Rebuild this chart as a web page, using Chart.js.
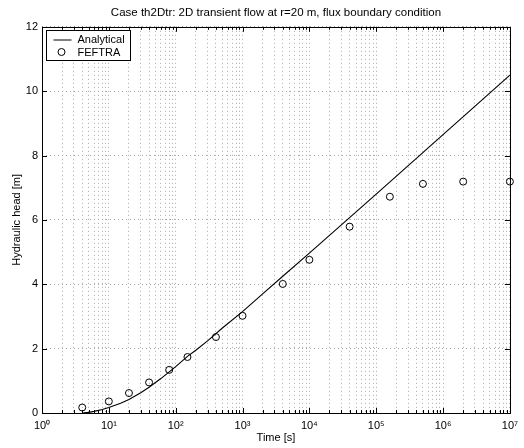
<!DOCTYPE html>
<html>
<head>
<meta charset="utf-8">
<script src="https://cdn.jsdelivr.net/npm/chart.js@4/dist/chart.umd.min.js"></script>
<style>
  html, body { margin: 0; padding: 0; background: #fff; }
  canvas { display: block; }
</style>
</head>
<body>
<canvas id="headChart" width="524" height="448"></canvas>
<script>
// analytical curve (time in s, head in m)
const analyticalTime = [4, 5, 6, 8, 10, 15, 20, 30, 40, 60, 80, 100, 150, 200, 300, 500, 1000, 2000, 4000, 1e4, 1e5, 1e6, 1e7];
const analyticalHead = [0.00, 0.02, 0.05, 0.11, 0.17, 0.30, 0.42, 0.63, 0.80, 1.07, 1.28, 1.44, 1.76, 1.95, 2.24, 2.64, 3.15, 3.70, 4.25, 4.97, 6.80, 8.65, 10.50];

// FEFTRA results
const feftraTime = [4, 10, 20, 40, 80, 150, 400, 1000, 4000, 1e4, 4e4, 1.6e5, 5e5, 2e6, 1e7];
const feftraHead = [0.17, 0.36, 0.62, 0.95, 1.34, 1.74, 2.36, 3.02, 4.01, 4.76, 5.79, 6.72, 7.12, 7.19, 7.19];

// axis ticks
const xTickValues = [1, 10, 100, 1e3, 1e4, 1e5, 1e6, 1e7];
const xTickLabels = ['10⁰', '10¹', '10²', '10³', '10⁴', '10⁵', '10⁶', '10⁷'];
const yTickValues = [0, 2, 4, 6, 8, 10, 12];

const FONT = "'Liberation Sans', Arial, Helvetica, sans-serif";
Chart.defaults.font.family = FONT;
Chart.defaults.font.size = 11;
Chart.defaults.color = '#000';

// major decades plus 2..9 in between
const xAllTicks = [];
xTickValues.forEach((v, i) => {
  xAllTicks.push({ value: v, major: true });
  if (i < xTickValues.length - 1) {
    for (let k = 2; k <= 9; k++) xAllTicks.push({ value: k * v, major: false });
  }
});

// box, inward tick marks and legend inside the axes
const frame = {
  id: 'frame',
  afterDatasetsDraw(chart) {
    const { ctx, chartArea: a, scales } = chart;
    ctx.save();
    ctx.strokeStyle = '#000';
    ctx.lineWidth = 1;
    ctx.beginPath();
    scales.x.ticks.forEach(t => {
      const px = Math.round(scales.x.getPixelForValue(t.value)) + 0.5;
      const len = t.major ? 5 : 3;
      ctx.moveTo(px, a.bottom); ctx.lineTo(px, a.bottom - len);
      ctx.moveTo(px, a.top); ctx.lineTo(px, a.top + len);
    });
    scales.y.ticks.forEach(t => {
      const py = Math.round(scales.y.getPixelForValue(t.value)) + 0.5;
      ctx.moveTo(a.left, py); ctx.lineTo(a.left + 5, py);
      ctx.moveTo(a.right, py); ctx.lineTo(a.right - 5, py);
    });
    ctx.stroke();
    ctx.strokeRect(Math.round(a.left) + 0.5, Math.round(a.top) + 0.5,
      Math.round(a.right - a.left), Math.round(a.bottom - a.top));

    // legend
    const bx = Math.round(a.left) + 4.5, by = Math.round(a.top) + 3.5;
    const bw = 84, bh = 30;
    ctx.fillStyle = '#fff';
    ctx.fillRect(bx, by, bw, bh);
    ctx.strokeRect(bx, by, bw, bh);
    const ds = chart.data.datasets;
    ctx.font = '11px ' + FONT;
    ctx.textBaseline = 'middle';
    ctx.fillStyle = '#000';
    ctx.beginPath();
    ctx.moveTo(bx + 7, by + 9.5); ctx.lineTo(bx + 25, by + 9.5);
    ctx.stroke();
    ctx.fillText(ds[0].label, bx + 31, by + 9);
    ctx.beginPath();
    ctx.arc(bx + 15, by + 21.5, 3.5, 0, Math.PI * 2);
    ctx.stroke();
    ctx.fillText(ds[1].label, bx + 31, by + 22);
    ctx.restore();
  }
};

const gridStyle = {
  color: '#a8a8a8',
  lineWidth: 1,
  drawTicks: false
};

new Chart(document.getElementById('headChart'), {
  type: 'scatter',
  data: {
    datasets: [{
      label: 'Analytical',
      data: analyticalTime.map((t, i) => ({ x: t, y: analyticalHead[i] })),
      showLine: true,
      borderColor: '#000',
      borderWidth: 1.1,
      pointRadius: 0,
      tension: 0
    }, {
      label: 'FEFTRA',
      data: feftraTime.map((t, i) => ({ x: t, y: feftraHead[i] })),
      showLine: false,
      clip: false,
      borderColor: '#000',
      backgroundColor: 'rgba(0,0,0,0)',
      borderWidth: 1,
      pointStyle: 'circle',
      pointRadius: 3.5
    }]
  },
  options: {
    responsive: false,
    animation: false,
    layout: { padding: { top: 0, right: 14, bottom: 0, left: 0 } },
    plugins: {
      legend: { display: false },
      tooltip: { enabled: false },
      title: {
        display: true,
        text: 'Case th2Dtr: 2D transient flow at r=20 m, flux boundary condition',
        fullSize: false,
        font: { size: 11.5, weight: 'normal' },
        padding: { top: 6, bottom: 7 }
      }
    },
    scales: {
      x: {
        type: 'logarithmic',
        min: 1,
        max: 1e7,
        afterBuildTicks: scale => { scale.ticks = xAllTicks.map(t => ({ ...t })); },
        afterFit: scale => { scale.height = 35; },
        grid: gridStyle,
        border: { display: false, dash: [1, 3] },
        ticks: {
          autoSkip: false,
          maxRotation: 0,
          padding: 6,
          callback: value => {
            const i = xTickValues.indexOf(value);
            return i >= 0 ? xTickLabels[i] : '';
          }
        },
        title: { display: true, text: 'Time [s]', padding: { top: 0, bottom: 3 } }
      },
      y: {
        min: 0,
        max: 12,
        afterBuildTicks: scale => { scale.ticks = yTickValues.map(v => ({ value: v })); },
        afterFit: scale => { scale.width = 42; },
        grid: gridStyle,
        border: { display: false, dash: [1, 3] },
        ticks: { padding: 4 },
        title: { display: true, text: 'Hydraulic head [m]', padding: { top: 10, bottom: 0 } }
      }
    }
  },
  plugins: [frame]
});
</script>
</body>
</html>
